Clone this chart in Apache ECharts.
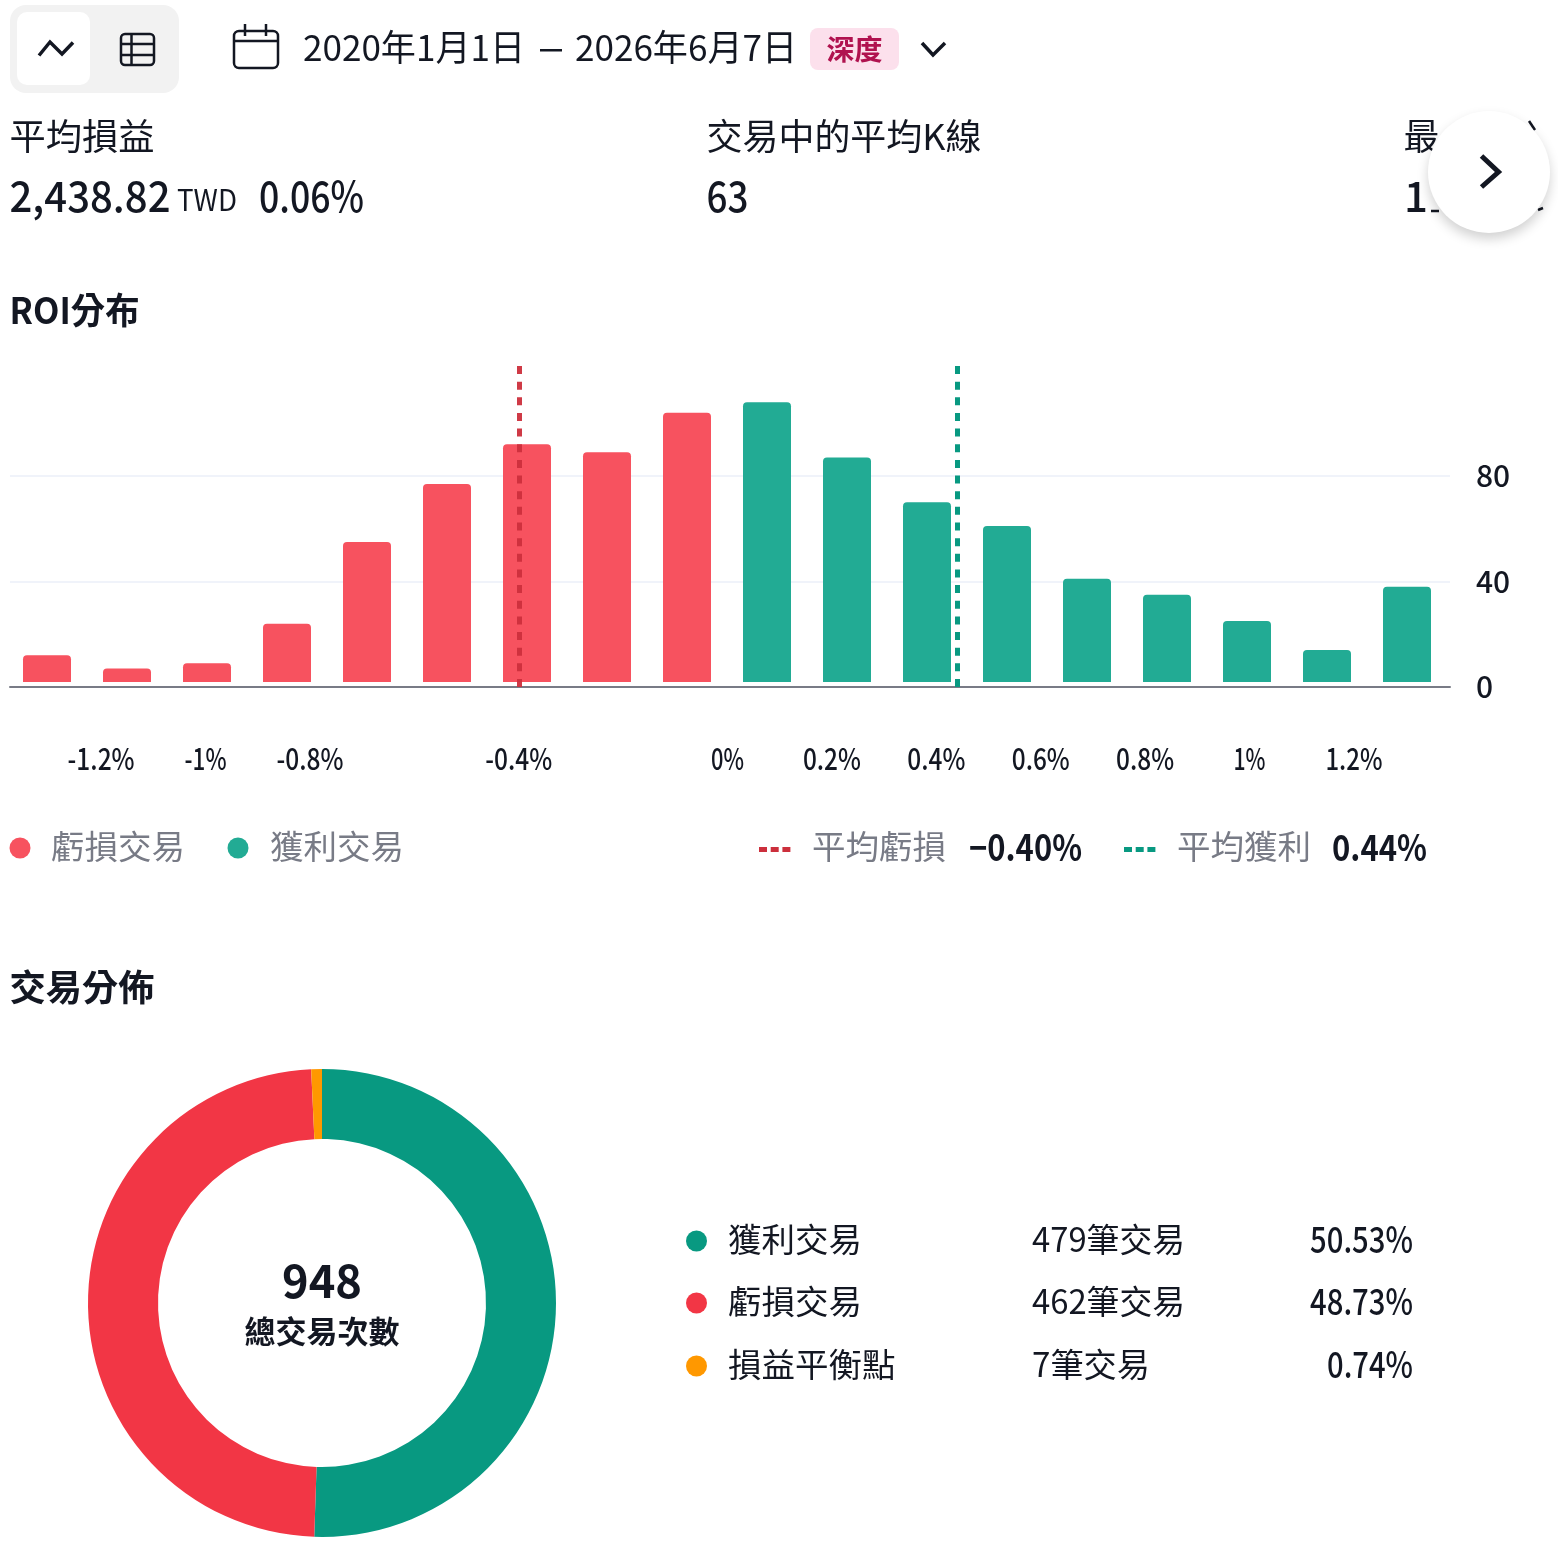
<!DOCTYPE html>
<html>
<head>
<meta charset="utf-8">
<title>策略報告</title>
<script src="https://cdn.jsdelivr.net/npm/echarts@6/dist/echarts.min.js"></script>
<style>html,body{margin:0;padding:0;background:#fff}#chart{width:1558px;height:1542px}</style>
</head>
<body>
<div id="chart"></div>
<script>
// ROI histogram: trade counts per return bin
const binNames = ['-1.30','-1.15','-1.00','-0.84','-0.69','-0.53','-0.38','-0.23','-0.07','0.08','0.23','0.38','0.54','0.69','0.84','1.00','1.15','1.30'];
const lossCounts = [12,7,9,24,55,77,92,89,104];
const profitCounts = [108,87,70,61,41,35,25,14,38];
const roiTicks = [-1.2,-1,-0.8,-0.4,0,0.2,0.4,0.6,0.8,1,1.2];
const countTicks = [0,40,80];
const avgLoss = -0.40;
const avgProfit = 0.44;

// Trade distribution donut
const outcomeNames = ['獲利交易','虧損交易','損益平衡點'];
const outcomeCounts = [479,462,7];
const outcomeCountText = ['479筆交易','462筆交易','7筆交易'];
const outcomePercentText = ['50.53%','48.73%','0.74%'];
const totalTrades = '948';

const INK = '#131722', GREY = '#787B86';
const RED = '#F7525F', TEAL = '#22AB94';
const DONUT = ['#089981','#F23645','#FF9800'];
const FONT = '"Noto Sans CJK TC",sans-serif';
const tickLabelWidths = [67,42,67,67,33,58,58,58,58,32,57];

const ruler = document.createElement('canvas').getContext('2d');
// Text element, optionally squeezed horizontally to a given pixel width
function label(text, x, y, size, opts) {
  const o = opts || {};
  const weight = o.bold ? 'bold' : (o.weight || 'normal');
  let scaleX = 1;
  if (o.width) {
    ruler.font = weight + ' ' + size + 'px ' + FONT;
    scaleX = o.width / ruler.measureText(text).width;
  }
  return { type:'text', x, y, scaleX, z:o.z || 20, silent:true,
    style:{ text, fill:o.color || INK, fontSize:size, fontWeight:weight, fontFamily:FONT,
            textAlign:o.align || 'left', textVerticalAlign:'middle' } };
}
const dot = (cx, cy, color) => ({ type:'circle', shape:{cx, cy, r:10.5}, style:{fill:color}, z:20, silent:true });
const stroke = (points, color, w) => ({ type:'polyline', shape:{points}, style:{stroke:color, lineWidth:w, fill:null, lineJoin:'miter'}, z:20, silent:true });
const seg = (x1,y1,x2,y2,color,w) => ({ type:'line', shape:{x1,y1,x2,y2}, style:{stroke:color, lineWidth:w}, z:20, silent:true });
const box = (x,y,width,height,r,fill,extra) => ({ type:'rect', shape:{x,y,width,height,r}, style:Object.assign({fill}, extra||{}), z:20, silent:true });
const dashes = (x, y, color) => [0,11.7,23.4].map(d => box(x+d, y-2.5, 8, 5, 0, color));

const graphics = [
  // view switch
  box(10,5,169,88,16,'#F2F2F2'),
  box(17,12,73,73,10,'#FFFFFF'),
  stroke([[39,55.5],[50,42],[62,54],[73,42.5]], INK, 3.5),
  box(121,34,33,31,4,'none',{stroke:INK,lineWidth:2.5}),
  seg(121,44,154,44,INK,2.5), seg(121,55,154,55,INK,2.5), seg(131.5,34,131.5,65,INK,2.5),
  // date range
  box(234,31,44,37,5,'#FFFFFF',{stroke:INK,lineWidth:2.5}),
  seg(234,41,278,41,INK,2.5), seg(245,24,245,36,INK,2.5), seg(266,24,266,36,INK,2.5),
  label('2020年1月1日',303,47,36,{width:222}),
  box(540,49,22,2.5,0,INK),
  label('2026年6月7日',575,47,36,{width:222}),
  box(810,28,89,42,8,'#FCE0EC'),
  label('深度',854.5,49.5,28,{bold:true,color:'#B0124F',align:'center'}),
  stroke([[922,43],[933,55],[945,43]], INK, 3.5),
  // summary figures
  label('平均損益',9.5,136,36,{width:145}),
  label('2,438.82',9.5,196,42,{width:161,weight:500}),
  label('TWD',177,200,30,{width:60}),
  label('0.06%',259,196,42,{width:105,weight:500}),
  label('交易中的平均K線',706.5,136,36,{width:275}),
  label('63',706.5,196,42,{width:42,weight:500}),
  label('最',1403.5,136,36),
  label('1',1404,196,42,{weight:500}),
  seg(1529,121,1535,130,INK,2.5),
  seg(1538,210,1543,208,INK,2.5),
  seg(1431,211,1439,211,INK,2.5),
  { type:'circle', shape:{cx:1489,cy:172,r:61}, style:{fill:'#FFFFFF',shadowBlur:12,shadowOffsetY:6,shadowColor:'rgba(0,0,0,0.18)'}, z:21, silent:true },
  Object.assign(stroke([[1481.5,156],[1498.5,172],[1481.5,187]], INK, 5), {z:22}),
  // section titles
  label('ROI分布',9.5,310,36,{bold:true,width:130}),
  label('交易分佈',9.5,987,36,{bold:true,width:145}),
  // histogram legend
  dot(20,848,RED), label('虧損交易',51,846,33.5,{color:GREY}),
  dot(238,848,TEAL), label('獲利交易',270,846,33.5,{color:GREY}),
  ...dashes(759,849.5,'#CC2F3C'), label('平均虧損',812,846,33.5,{color:GREY}),
  label('−0.40%',969,847,36,{bold:true,width:113}),
  ...dashes(1124,849.5,'#089981'), label('平均獲利',1177,846,33.5,{color:GREY}),
  label('0.44%',1332,847,36,{bold:true,width:95}),
  // donut centre
  label(totalTrades,322,1281,46,{bold:true,align:'center',width:80}),
  label('總交易次數',322,1331,31,{bold:true,align:'center'})
];
// donut legend rows
const rowY = [1239,1301,1364];
outcomeNames.forEach((name, i) => {
  graphics.push(dot(696.5, rowY[i]+2, DONUT[i]));
  graphics.push(label(name, 728, rowY[i], 33.5));
  graphics.push(label(outcomeCountText[i], 1032, rowY[i], 33.5, {width:[153,153,118][i]}));
  graphics.push(label(outcomePercentText[i], 1413, rowY[i], 36, {align:'right', width:[103,103,86][i], weight:500}));
});

const pad = new Array(9).fill(null);
const option = {
  animation:false,
  backgroundColor:'#FFFFFF',
  textStyle:{fontFamily:FONT},
  grid:[
    {left:10, width:1440, top:366, height:321},
    {left:7, width:1440, top:366, height:321}
  ],
  xAxis:[
    {type:'value', gridIndex:0, min:-1.3755, max:1.3831, z:4,
      axisLine:{onZero:false, lineStyle:{color:GREY, width:2}},
      axisTick:{show:false}, splitLine:{show:false}, axisLabel:{show:false}},
    {type:'category', gridIndex:1, data:binNames, show:false}
  ],
  yAxis:[
    {type:'value', gridIndex:0, position:'right', min:0, max:121.7,
      axisLine:{show:false}, axisTick:{show:false, customValues:countTicks},
      splitLine:{show:true, lineStyle:{color:'#F0F3FA', width:2}},
      axisLabel:{customValues:countTicks, margin:26, fontSize:30, color:INK, fontFamily:FONT, fontWeight:500, align:'left'}},
    {type:'value', gridIndex:1, min:0, max:121.7, show:false}
  ],
  series:[
    {type:'bar', name:'虧損交易', xAxisIndex:1, yAxisIndex:1, data:lossCounts.concat(pad), barWidth:48, barGap:'-100%', z:2,
      itemStyle:{color:RED, borderRadius:[4,4,0,0]}},
    {type:'bar', name:'獲利交易', xAxisIndex:1, yAxisIndex:1, data:pad.concat(profitCounts), barWidth:48, barGap:'-100%', z:2,
      itemStyle:{color:TEAL, borderRadius:[4,4,0,0]}},
    // white gap between the bar feet and the axis line, then the two average markers
    {type:'line', xAxisIndex:0, yAxisIndex:0, data:[], z:3,
      markArea:{silent:true, z:3, itemStyle:{color:'#FFFFFF'}, data:[[{yAxis:0},{yAxis:1.9}]]},
      markLine:{silent:true, z:5, symbol:'none', label:{show:false},
        lineStyle:{type:[8,7.65], width:5, color:'#CC2F3C', opacity:0.95},
        data:[{xAxis:avgLoss},{xAxis:avgProfit, lineStyle:{color:'#089981', type:[8,7.65], width:5, opacity:1}}]}},
    {type:'pie', center:[322,1303], radius:[164,234], startAngle:90, clockwise:true, silent:true,
      label:{show:false}, labelLine:{show:false},
      data:outcomeNames.map((name,i) => ({name, value:outcomeCounts[i], itemStyle:{color:DONUT[i]}}))}
  ],
  graphic:{elements:graphics}
};
const chart = echarts.init(document.getElementById('chart'),null,{renderer:'canvas'});
chart.setOption(option);
// Return-axis tick labels, condensed and placed through the axis scale
const tickLabels = roiTicks.map((v, i) =>
  label(v + '%', chart.convertToPixel({xAxisIndex:0}, v) - 0.5, 759, 30, {align:'center', width:tickLabelWidths[i], weight:500}));
chart.setOption({graphic:{elements:graphics.concat(tickLabels)}});
</script>
</body>
</html>
